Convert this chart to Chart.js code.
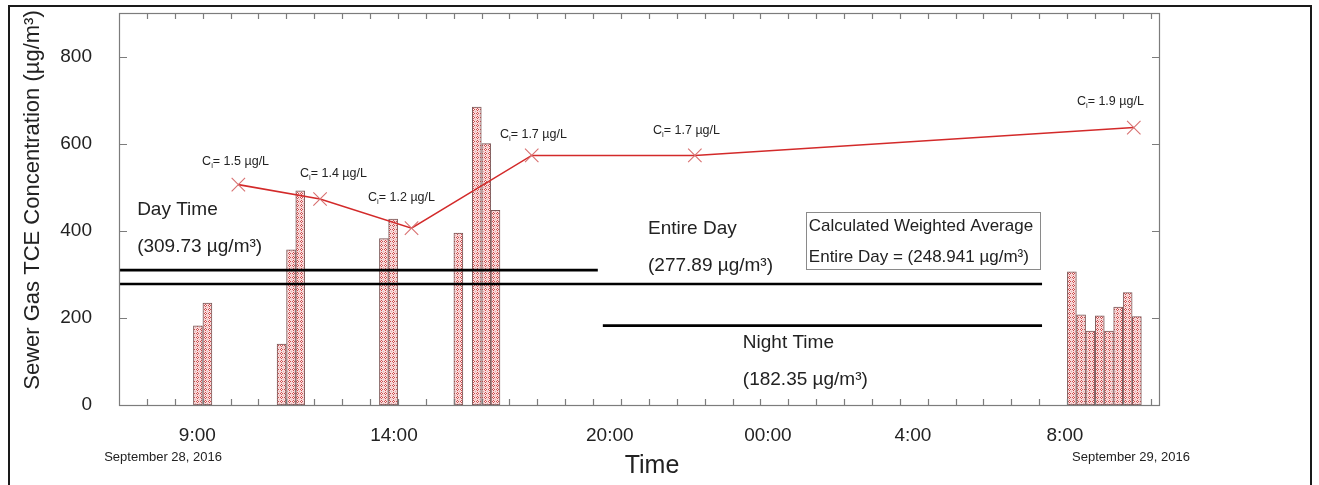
<!DOCTYPE html>
<html>
<head>
<meta charset="utf-8">
<script src="https://cdn.jsdelivr.net/npm/chart.js@4.4.1/dist/chart.umd.min.js"></script>
<style>
  html, body { margin: 0; padding: 0; background: #fff; }
</style>
</head>
<body>
<canvas id="c" width="1319" height="485"></canvas>
<script>
// x is measured in axis ticks (one unit = one small tick on the time axis)
var barX = [2.83, 3.17, 5.83, 6.17, 6.5, 9.5, 9.83, 12.17, 12.83, 13.17, 13.5,
            34.17, 34.5, 34.83, 35.17, 35.5, 35.83, 36.17, 36.5];
var barY = [182, 234, 140, 356, 492, 382, 427, 395, 684, 600, 447,
            306, 207, 170, 205, 170, 225, 258, 203];

var ciX = [4.28, 7.21, 10.49, 14.8, 20.65, 36.39];
var ciY = [506, 473, 406, 573, 573, 637];
var ciValues = ['1.5', '1.4', '1.2', '1.7', '1.7', '1.9'];

var avgNames = ['Day Time', 'Entire Day', 'Night Time'];
var avgValues = [309.73, 277.89, 182.35];
var avgFrom = [0, 0, 17.35];
var avgTo = [17.17, 33.1, 33.1];
var weightedAvg = 248.941;

var timeLabels = ['9:00', '14:00', '20:00', '00:00', '4:00', '8:00'];
var timeX = [2.81, 9.86, 17.6, 23.27, 28.47, 33.92];
var dateLabels = ['September 28, 2016', 'September 29, 2016'];
var dateX = [1.58, 36.29];
var yTicks = [0, 200, 400, 600, 800];

// where the text notes sit, in data units
var ciNoteX = [2.98, 6.49, 8.93, 13.66, 19.15, 34.35];
var ciNoteY = [559, 531, 476, 621, 630, 697];
var avgNoteX = [0.65, 18.97, 22.37];
var avgNoteY = [448, 405, 143];
var boxAt = [24.63, 444];

var FONT = '"Liberation Sans", Arial, Helvetica, sans-serif';

function hatch() {
  var p = document.createElement('canvas');
  p.width = 4; p.height = 4;
  var g = p.getContext('2d');
  g.fillStyle = '#f6dada';
  g.fillRect(0, 0, 4, 4);
  g.fillStyle = '#cf4a4a';
  g.fillRect(1, 0, 1, 1); g.fillRect(0, 1, 1, 1);
  g.fillRect(2, 1, 1, 1); g.fillRect(1, 2, 1, 1);
  g.fillStyle = '#ffffff';
  g.fillRect(1, 1, 1, 1);
  g.fillStyle = '#e9a9a9';
  g.fillRect(3, 3, 1, 1);
  return g.createPattern(p, 'repeat');
}

function parts(ctx, list, x, y, size) {
  list.forEach(function (p) {
    var s = p[1] ? size * 0.62 : size;
    ctx.font = s + 'px ' + FONT;
    ctx.fillText(p[0], x, y + (p[1] < 0 ? size * 0.35 : 0));
    x += ctx.measureText(p[0]).width;
  });
}

var decor = {
  id: 'decor',
  beforeDraw: function (chart) {
    var ctx = chart.ctx;
    ctx.save();
    ctx.strokeStyle = '#1a1a1a';
    ctx.lineWidth = 2;
    ctx.strokeRect(9, 6, 1302, 500);
    ctx.restore();
  },
  afterDatasetsDraw: function (chart) {
    var ctx = chart.ctx, a = chart.chartArea;
    var xs = chart.scales.x, ys = chart.scales.y;
    ctx.save();
    // plot frame with inward ticks on all four sides
    ctx.strokeStyle = '#7c7c7c';
    ctx.lineWidth = 1.2;
    ctx.strokeRect(a.left + 0.5, a.top + 0.5, a.right - a.left - 1, a.bottom - a.top);
    ctx.beginPath();
    xs.ticks.forEach(function (t) {
      if (t.value <= 0 || t.value >= xs.max) return;
      var px = Math.round(xs.getPixelForValue(t.value)) + 0.5;
      ctx.moveTo(px, a.bottom); ctx.lineTo(px, a.bottom - 6);
      ctx.moveTo(px, a.top); ctx.lineTo(px, a.top + 6);
    });
    yTicks.forEach(function (v) {
      if (v <= 0) return;
      var py = Math.round(ys.getPixelForValue(v)) + 0.5;
      ctx.moveTo(a.left, py); ctx.lineTo(a.left + 8, py);
      ctx.moveTo(a.right, py); ctx.lineTo(a.right - 8, py);
    });
    ctx.stroke();

    ctx.fillStyle = '#222';
    ctx.textBaseline = 'middle';
    ctx.textAlign = 'left';

    // C_i notes
    ciValues.forEach(function (v, i) {
      parts(ctx, [['C', 0], ['i', -1], ['= ' + v + ' \u00b5g/L', 0]],
        xs.getPixelForValue(ciNoteX[i]), ys.getPixelForValue(ciNoteY[i]), 12.5);
    });

    // average notes
    ctx.font = '19px ' + FONT;
    avgNames.forEach(function (n, i) {
      var px = xs.getPixelForValue(avgNoteX[i]), py = ys.getPixelForValue(avgNoteY[i]);
      ctx.fillText(n, px, py);
      ctx.fillText('(' + avgValues[i].toFixed(2) + ' \u00b5g/m\u00b3)', px, py + 37);
    });

    // weighted average box
    var bx = xs.getPixelForValue(boxAt[0]), by = ys.getPixelForValue(boxAt[1]);
    ctx.strokeStyle = '#8a8a8a';
    ctx.lineWidth = 1;
    ctx.strokeRect(Math.round(bx) + 0.5, Math.round(by) + 0.5, 234, 57);
    ctx.font = '17px ' + FONT;
    ctx.fillText('Calculated Weighted Average', bx + 3, by + 15);
    ctx.fillText('Entire Day = (' + weightedAvg + ' \u00b5g/m\u00b3)', bx + 3, by + 46);

    // date labels and axis titles
    ctx.textAlign = 'center';
    ctx.font = '13px ' + FONT;
    dateLabels.forEach(function (d, i) {
      ctx.fillText(d, xs.getPixelForValue(dateX[i]), 457);
    });
    ctx.font = '25px ' + FONT;
    ctx.fillText('Time', 652, 466);
    ctx.translate(33, 200);
    ctx.rotate(-Math.PI / 2);
    ctx.font = '22px ' + FONT;
    ctx.fillText('Sewer Gas TCE Concentration (\u00b5g/m\u00b3)', 0, 0);
    ctx.restore();
  }
};

var lineOf = function (i) {
  return {
    type: 'line',
    data: [{ x: avgFrom[i], y: avgValues[i] }, { x: avgTo[i], y: avgValues[i] }],
    borderColor: '#000',
    borderWidth: 2.6,
    pointRadius: 0,
    order: 1
  };
};

new Chart(document.getElementById('c'), {
  type: 'bar',
  data: {
    datasets: [
      {
        type: 'bar',
        data: barX.map(function (x, i) { return { x: x, y: barY[i] }; }),
        backgroundColor: hatch(),
        borderColor: '#7d5a5a',
        borderWidth: 1,
        borderSkipped: false,
        barThickness: 9,
        order: 3
      },
      lineOf(0), lineOf(1), lineOf(2),
      {
        type: 'line',
        data: ciX.map(function (x, i) { return { x: x, y: ciY[i] }; }),
        borderColor: '#d32a2a',
        borderWidth: 1.6,
        pointStyle: 'crossRot',
        pointRadius: 9.5,
        pointBorderColor: '#d87070',
        pointBorderWidth: 1.1,
        tension: 0,
        order: 0
      }
    ]
  },
  options: {
    responsive: false,
    animation: false,
    events: [],
    layout: { padding: { left: 0, top: 13, right: 159, bottom: 0 } },
    plugins: { legend: { display: false }, tooltip: { enabled: false } },
    scales: {
      x: {
        type: 'linear', position: 'bottom', offset: false,
        min: 0, max: 37.33,
        ticks: { display: false, stepSize: 1, includeBounds: false },
        grid: { display: false, drawTicks: false },
        border: { display: false },
        afterFit: function (s) { s.height = 0; }
      },
      xl: {
        type: 'linear', position: 'bottom', offset: false,
        min: 0, max: 37.33,
        afterBuildTicks: function (s) {
          s.ticks = timeX.map(function (v) { return { value: v }; });
        },
        ticks: {
          autoSkip: false, maxRotation: 0, padding: 19,
          color: '#222', font: { size: 19, family: FONT },
          callback: function (v, i) { return timeLabels[i]; }
        },
        grid: { display: false, drawTicks: false },
        border: { display: false },
        afterFit: function (s) { s.height = 80; s.paddingLeft = 0; s.paddingRight = 0; }
      },
      y: {
        type: 'linear', min: 0, max: 900,
        afterBuildTicks: function (s) {
          s.ticks = yTicks.map(function (v) { return { value: v }; });
        },
        ticks: { padding: 27, color: '#222', font: { size: 19, family: FONT } },
        grid: { display: false, drawTicks: false },
        border: { display: false },
        afterFit: function (s) { s.width = 119; s.paddingTop = 0; s.paddingBottom = 0; }
      }
    }
  },
  plugins: [decor]
});
</script>
</body>
</html>
